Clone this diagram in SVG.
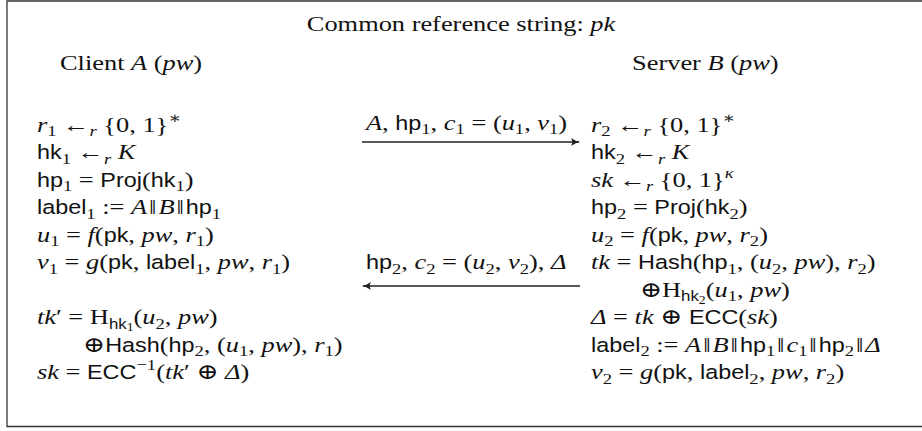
<svg xmlns="http://www.w3.org/2000/svg" width="922" height="431" viewBox="0 0 922 431">
<defs>
<style>
text { font-family: "Liberation Serif", "DejaVu Serif", serif; font-size: 22px; fill: #111; }
.i { font-style: italic; }
.s { font-family: "Liberation Sans", "DejaVu Sans", sans-serif; font-size: 19.5px; }
.b { font-size: 15.5px; }
.s.b { font-size: 14px; }
.bb { font-size: 11.5px; }
.frame { fill: none; stroke: #333; stroke-width: 1.3; }
.arrow { fill: none; stroke: #222; stroke-width: 1.3; }
</style>
<marker id="tip" markerUnits="userSpaceOnUse" markerWidth="12" markerHeight="10" refX="0" refY="0" viewBox="-9 -5 11 10" orient="auto-start-reverse">
<path d="M -8 -4 Q -3 -0.6 1 0 Q -3 0.6 -8 4 Q -5.5 0 -8 -4 Z" fill="#222"/>
</marker>
</defs>
<path class="frame" d="M 930 1 H 7 V 426.5 H 930"/>
<g id="title" transform="scale(1.2,1)">
<text x="384.2" y="31" text-anchor="middle">Common reference string: <tspan class="i">pk</tspan></text>
</g>
<g id="client" transform="scale(1.2,1)">
<text x="50" y="70">Client <tspan class="i">A</tspan> (<tspan class="i">pw</tspan>)</text>
<text x="30.8" y="132"><tspan class="i">r</tspan><tspan class="b" dy="4.5">1</tspan><tspan dy="-4.5"> ←</tspan><tspan class="b i" dy="4.5">r</tspan><tspan dy="-4.5"> {0, 1}</tspan><tspan class="b" dy="-9">∗</tspan></text>
<text x="30.8" y="159.5"><tspan class="s">hk</tspan><tspan class="b" dy="4.5">1</tspan><tspan dy="-4.5"> ←</tspan><tspan class="b i" dy="4.5">r</tspan><tspan class="i" dy="-4.5"> K</tspan></text>
<text x="30.8" y="187"><tspan class="s">hp</tspan><tspan class="b" dy="4.5">1</tspan><tspan dy="-4.5"> = </tspan><tspan class="s">Proj</tspan>(<tspan class="s">hk</tspan><tspan class="b" dy="4.5">1</tspan><tspan dy="-4.5">)</tspan></text>
<text x="30.8" y="214.5"><tspan class="s">label</tspan><tspan class="b" dy="4.5">1</tspan><tspan dy="-4.5"> := </tspan><tspan class="i">A</tspan><tspan dx="1.6">‖</tspan><tspan class="i" dx="1.6">B</tspan><tspan dx="1.6">‖</tspan><tspan class="s" dx="1.6">hp</tspan><tspan class="b" dy="4.5">1</tspan></text>
<text x="30.8" y="242"><tspan class="i">u</tspan><tspan class="b" dy="4.5">1</tspan><tspan dy="-4.5"> = </tspan><tspan class="i">f</tspan>(<tspan class="s">pk</tspan>, <tspan class="i">pw</tspan>, <tspan class="i">r</tspan><tspan class="b" dy="4.5">1</tspan><tspan dy="-4.5">)</tspan></text>
<text x="30.8" y="269.5"><tspan class="i">v</tspan><tspan class="b" dy="4.5">1</tspan><tspan dy="-4.5"> = </tspan><tspan class="i">g</tspan>(<tspan class="s">pk</tspan>, <tspan class="s">label</tspan><tspan class="b" dy="4.5">1</tspan><tspan dy="-4.5">, </tspan><tspan class="i">pw</tspan>, <tspan class="i">r</tspan><tspan class="b" dy="4.5">1</tspan><tspan dy="-4.5">)</tspan></text>
<text x="30.8" y="324.5"><tspan class="i">tk</tspan>′ = H<tspan class="s b" dy="4.5">hk</tspan><tspan class="bb" dy="2.5">1</tspan><tspan dy="-7">(</tspan><tspan class="i">u</tspan><tspan class="b" dy="4.5">2</tspan><tspan dy="-4.5">, </tspan><tspan class="i">pw</tspan>)</text>
<text x="69.2" y="352">⊕<tspan class="s">Hash</tspan>(<tspan class="s">hp</tspan><tspan class="b" dy="4.5">2</tspan><tspan dy="-4.5">, (</tspan><tspan class="i">u</tspan><tspan class="b" dy="4.5">1</tspan><tspan dy="-4.5">, </tspan><tspan class="i">pw</tspan>), <tspan class="i">r</tspan><tspan class="b" dy="4.5">1</tspan><tspan dy="-4.5">)</tspan></text>
<text x="30.8" y="379.5"><tspan class="i">sk</tspan> = <tspan class="s">ECC</tspan><tspan class="b" dy="-9">−1</tspan><tspan dy="9">(</tspan><tspan class="i">tk</tspan>′ ⊕ <tspan class="i">Δ</tspan>)</text>
</g>
<g id="server" transform="scale(1.2,1)">
<text x="526.7" y="70">Server <tspan class="i">B</tspan> (<tspan class="i">pw</tspan>)</text>
<text x="492.5" y="132"><tspan class="i">r</tspan><tspan class="b" dy="4.5">2</tspan><tspan dy="-4.5"> ←</tspan><tspan class="b i" dy="4.5">r</tspan><tspan dy="-4.5"> {0, 1}</tspan><tspan class="b" dy="-9">∗</tspan></text>
<text x="492.5" y="159.5"><tspan class="s">hk</tspan><tspan class="b" dy="4.5">2</tspan><tspan dy="-4.5"> ←</tspan><tspan class="b i" dy="4.5">r</tspan><tspan class="i" dy="-4.5"> K</tspan></text>
<text x="492.5" y="187"><tspan class="i">sk</tspan> ←<tspan class="b i" dy="4.5">r</tspan><tspan dy="-4.5"> {0, 1}</tspan><tspan class="b i" dy="-9">κ</tspan></text>
<text x="492.5" y="214.5"><tspan class="s">hp</tspan><tspan class="b" dy="4.5">2</tspan><tspan dy="-4.5"> = </tspan><tspan class="s">Proj</tspan>(<tspan class="s">hk</tspan><tspan class="b" dy="4.5">2</tspan><tspan dy="-4.5">)</tspan></text>
<text x="492.5" y="242"><tspan class="i">u</tspan><tspan class="b" dy="4.5">2</tspan><tspan dy="-4.5"> = </tspan><tspan class="i">f</tspan>(<tspan class="s">pk</tspan>, <tspan class="i">pw</tspan>, <tspan class="i">r</tspan><tspan class="b" dy="4.5">2</tspan><tspan dy="-4.5">)</tspan></text>
<text x="492.5" y="269.5"><tspan class="i">tk</tspan> = <tspan class="s">Hash</tspan>(<tspan class="s">hp</tspan><tspan class="b" dy="4.5">1</tspan><tspan dy="-4.5">, (</tspan><tspan class="i">u</tspan><tspan class="b" dy="4.5">2</tspan><tspan dy="-4.5">, </tspan><tspan class="i">pw</tspan>), <tspan class="i">r</tspan><tspan class="b" dy="4.5">2</tspan><tspan dy="-4.5">)</tspan></text>
<text x="533.3" y="297">⊕H<tspan class="s b" dy="4.5">hk</tspan><tspan class="bb" dy="2.5">2</tspan><tspan dy="-7">(</tspan><tspan class="i">u</tspan><tspan class="b" dy="4.5">1</tspan><tspan dy="-4.5">, </tspan><tspan class="i">pw</tspan>)</text>
<text x="492.5" y="324.5"><tspan class="i">Δ</tspan> = <tspan class="i">tk</tspan> ⊕ <tspan class="s">ECC</tspan>(<tspan class="i">sk</tspan>)</text>
<text x="492.5" y="352"><tspan class="s">label</tspan><tspan class="b" dy="4.5">2</tspan><tspan dy="-4.5"> := </tspan><tspan class="i">A</tspan><tspan dx="1.6">‖</tspan><tspan class="i" dx="1.6">B</tspan><tspan dx="1.6">‖</tspan><tspan class="s" dx="1.6">hp</tspan><tspan class="b" dy="4.5">1</tspan><tspan dy="-4.5" dx="1.6">‖</tspan><tspan class="i" dx="1.6">c</tspan><tspan class="b" dy="4.5">1</tspan><tspan dy="-4.5" dx="1.6">‖</tspan><tspan class="s" dx="1.6">hp</tspan><tspan class="b" dy="4.5">2</tspan><tspan dy="-4.5" dx="1.6">‖</tspan><tspan class="i" dx="1.6">Δ</tspan></text>
<text x="492.5" y="379.5"><tspan class="i">v</tspan><tspan class="b" dy="4.5">2</tspan><tspan dy="-4.5"> = </tspan><tspan class="i">g</tspan>(<tspan class="s">pk</tspan>, <tspan class="s">label</tspan><tspan class="b" dy="4.5">2</tspan><tspan dy="-4.5">, </tspan><tspan class="i">pw</tspan>, <tspan class="i">r</tspan><tspan class="b" dy="4.5">2</tspan><tspan dy="-4.5">)</tspan></text>
</g>
<g id="connectors">
<line class="arrow" x1="362" y1="142" x2="579" y2="142" marker-end="url(#tip)"/>
<line class="arrow" x1="363" y1="286" x2="580" y2="286" marker-start="url(#tip)"/>
<g transform="scale(1.2,1)">
<text x="305" y="130"><tspan class="i">A</tspan>, <tspan class="s">hp</tspan><tspan class="b" dy="4.5">1</tspan><tspan dy="-4.5">, </tspan><tspan class="i">c</tspan><tspan class="b" dy="4.5">1</tspan><tspan dy="-4.5"> = (</tspan><tspan class="i">u</tspan><tspan class="b" dy="4.5">1</tspan><tspan dy="-4.5">, </tspan><tspan class="i">v</tspan><tspan class="b" dy="4.5">1</tspan><tspan dy="-4.5">)</tspan></text>
<text x="305" y="269.5"><tspan class="s">hp</tspan><tspan class="b" dy="4.5">2</tspan><tspan dy="-4.5">, </tspan><tspan class="i">c</tspan><tspan class="b" dy="4.5">2</tspan><tspan dy="-4.5"> = (</tspan><tspan class="i">u</tspan><tspan class="b" dy="4.5">2</tspan><tspan dy="-4.5">, </tspan><tspan class="i">v</tspan><tspan class="b" dy="4.5">2</tspan><tspan dy="-4.5">), </tspan><tspan class="i">Δ</tspan></text>
</g>
</g>
</svg>
